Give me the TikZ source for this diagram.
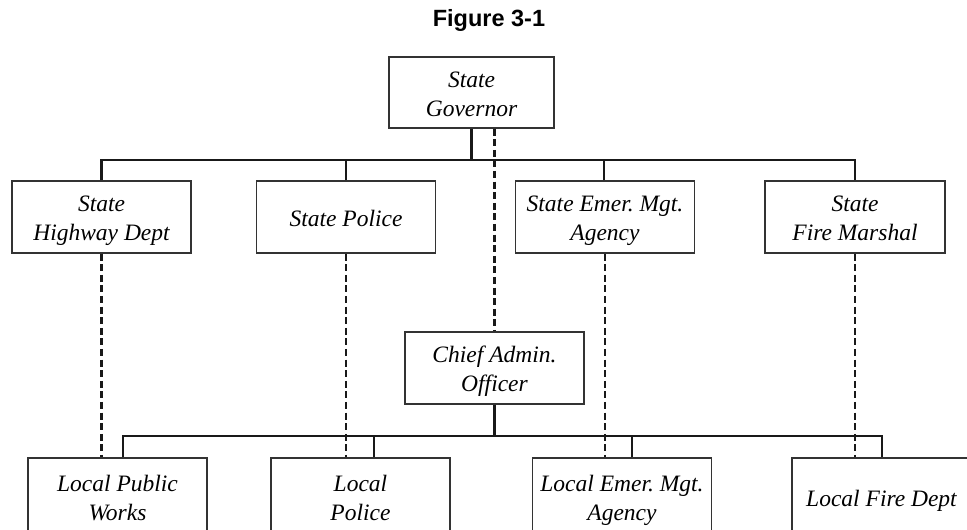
\documentclass[tikz,border=0pt]{standalone}
\usepackage{fontspec}
\setmainfont{Liberation Serif}
\setsansfont{Liberation Sans}
% every text line gets the same height and depth
\newcommand{\tline}[1]{\rule{0pt}{23.5pt}#1\rule[-5.5pt]{0pt}{5.5pt}}
\begin{document}
\begin{tikzpicture}[x=1pt,y=-1pt,
  box/.style={draw=black!80, line width=1.1pt, minimum width=179pt,
    minimum height=72pt, inner sep=0pt, align=center,
    font=\fontsize{23.5}{29}\selectfont\itshape},
  link/.style={line width=2.1pt, draw=black!90},
  tie/.style={line width=2.2pt, draw=black!90, dash pattern=on 7pt off 3.6pt}]
\useasboundingbox (0,0) rectangle (967,530);

% heading
\node[font=\sffamily\bfseries\fontsize{23.5}{28}\selectfont] (title) at (489,20) {Figure 3-1};

% state level
\node[box, minimum width=165pt, minimum height=71pt] (gov) at (471.5,92.5) {\tline{State}\\\tline{Governor}};
\node[box] (hwy) at (101.5,217) {\tline{State}\\\tline{Highway Dept}};
\node[box] (spol) at (346,217) {\tline{State Police}};
\node[box] (sema) at (605,217) {\tline{State Emer.\ Mgt.}\\\tline{Agency}};
\node[box, minimum width=180pt] (sfm) at (855,217) {\tline{State}\\\tline{Fire Marshal}};

% local level
\node[box] (cao) at (494.5,368) {\tline{Chief Admin.}\\\tline{Officer}};
\node[box, minimum height=78pt] (lpw) at (117.5,497) {\tline{Local Public}\\\tline{Works}};
\node[box, minimum height=78pt] (lpol) at (360.5,497) {\tline{Local}\\\tline{Police}};
\node[box, minimum height=78pt] (lema) at (622,497) {\tline{Local Emer.\ Mgt.}\\\tline{Agency}};
\node[box, minimum height=78pt] (lfd) at (881.5,497) {\raisebox{-3pt}{\tline{Local Fire Dept}}};

% state chain of command
\coordinate (tb) at (471.5,160);
\draw[link] (gov.south) -- (tb);
\draw[link] (hwy.north) -- (hwy.north |- tb) -- (sfm.north |- tb) -- (sfm.north);
\draw[link] (spol.north) -- (spol.north |- tb);
\draw[link] ([xshift=-1pt]sema.north) -- ([xshift=-1pt]sema.north |- tb);

% local chain of command
\coordinate (lb) at (494.5,436);
\draw[link] (cao.south) -- (lb);
\coordinate (lpwTop) at ([xshift=5.5pt]lpw.north);
\coordinate (lpolTop) at ([xshift=13.5pt]lpol.north);
\coordinate (lemaTop) at ([xshift=10pt]lema.north);
\coordinate (lfdTop) at ([xshift=0.5pt]lfd.north);
\draw[link] (lpwTop) -- (lpwTop |- lb) -- (lfdTop |- lb) -- (lfdTop);
\draw[link] (lpolTop) -- (lpolTop |- lb);
\draw[link] (lemaTop) -- (lemaTop |- lb);

% coordination ties
\draw[tie] (gov.south -| cao.north) -- (cao.north);
\draw[tie] (hwy.south) -- (hwy.south |- lpw.north);
\draw[tie] (spol.south) -- (spol.south |- lpol.north);
\draw[tie] (sema.south) -- (sema.south |- lema.north);
\draw[tie] (sfm.south) -- (sfm.south |- lfd.north);
\end{tikzpicture}
\end{document}
